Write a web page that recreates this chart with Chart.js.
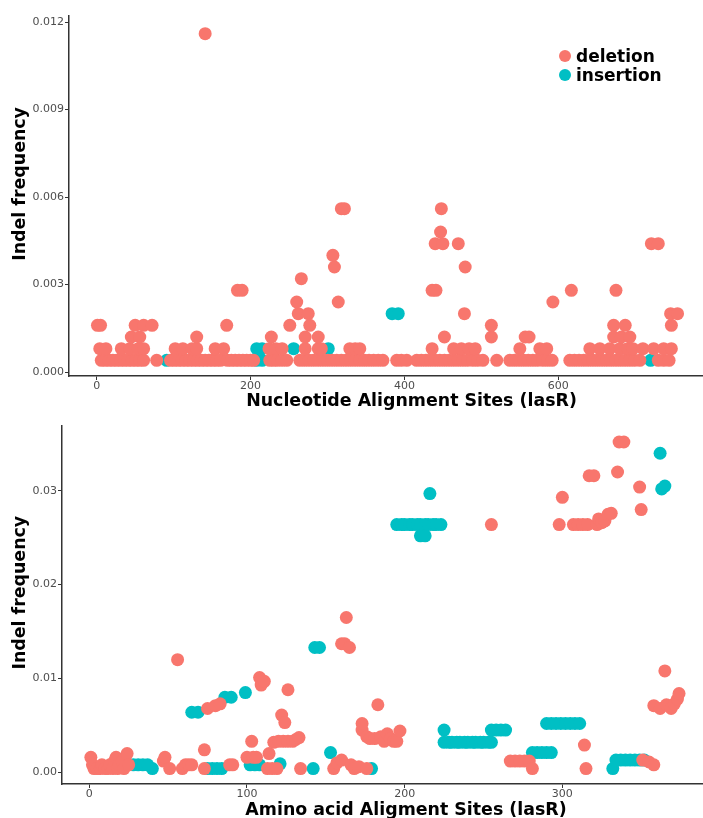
<!DOCTYPE html>
<html>
<head>
<meta charset="utf-8">
<script src="https://cdn.jsdelivr.net/npm/chart.js@4.4.1/dist/chart.umd.min.js"></script>
<style>
  html, body { margin: 0; padding: 0; background: #fff; width: 703px; height: 818px; overflow: hidden; position: relative; }
  #top { position: absolute; left: 0; top: 0; }
  #bottom { position: absolute; left: 0; top: 418px; }
  #legend { position: absolute; left: 559px; top: 46px; font: bold 17px 'DejaVu Sans', sans-serif; color: #000; }
  .item { display: flex; align-items: center; height: 19.5px; }
  .dot { width: 12px; height: 12px; border-radius: 50%; margin-right: 5px; }
</style>
</head>
<body>
<canvas id="top" width="755" height="418"></canvas>
<canvas id="bottom" width="751" height="412"></canvas>
<div id="legend">
  <div class="item"><span class="dot" style="background:#F8766D"></span>deletion</div>
  <div class="item"><span class="dot" style="background:#00BFC4"></span>insertion</div>
</div>
<script>
// nucleotide panel: [site, indel frequency]
const ntDeletion = [
  [6,0.0004],[11,0.0004],[16,0.0004],[21,0.0004],[26,0.0004],[31,0.0004],[36,0.0004],[41,0.0004],[46,0.0004],[51,0.0004],[56,0.0004],[61,0.0004],
  [78,0.0004],[96,0.0004],[101,0.0004],[106,0.0004],[111,0.0004],[116,0.0004],[121,0.0004],[126,0.0004],[131,0.0004],[136,0.0004],[141,0.0004],
  [146,0.0004],[151,0.0004],[156,0.0004],[161,0.0004],[170,0.0004],[175,0.0004],[180,0.0004],[185,0.0004],[190,0.0004],[195,0.0004],[200,0.0004],
  [204,0.0004],[225,0.0004],[230,0.0004],[235,0.0004],[241,0.0004],[247,0.0004],[264,0.0004],[270,0.0004],[276,0.0004],[282,0.0004],[288,0.0004],
  [294,0.0004],[300,0.0004],[306,0.0004],[312,0.0004],[318,0.0004],[324,0.0004],[330,0.0004],[336,0.0004],[342,0.0004],[348,0.0004],[354,0.0004],
  [360,0.0004],[366,0.0004],[372,0.0004],[390,0.0004],[396,0.0004],[403,0.0004],[416,0.0004],[422,0.0004],[428,0.0004],[434,0.0004],[440,0.0004],
  [446,0.0004],[452,0.0004],[458,0.0004],[464,0.0004],[470,0.0004],[476,0.0004],[482,0.0004],[489,0.0004],[495,0.0004],[502,0.0004],[520,0.0004],
  [537,0.0004],[543,0.0004],[549,0.0004],[555,0.0004],[561,0.0004],[567,0.0004],[573,0.0004],[580,0.0004],[586,0.0004],[592,0.0004],[615,0.0004],
  [621,0.0004],[627,0.0004],[633,0.0004],[639,0.0004],[645,0.0004],[651,0.0004],[657,0.0004],[663,0.0004],[669,0.0004],[675,0.0004],[681,0.0004],
  [687,0.0004],[693,0.0004],[699,0.0004],[706,0.0004],[730,0.0004],[737,0.0004],[744,0.0004],
  [4,0.0008],[12,0.0008],[32,0.0008],[43,0.0008],[54,0.0008],[61,0.0008],[102,0.0008],[112,0.0008],[124,0.0008],[130,0.0008],[154,0.0008],
  [165,0.0008],[224,0.0008],[233,0.0008],[241,0.0008],[271,0.0008],[288,0.0008],[292,0.0008],[329,0.0008],[336,0.0008],[342,0.0008],[436,0.0008],
  [464,0.0008],[474,0.0008],[484,0.0008],[492,0.0008],[550,0.0008],[576,0.0008],[585,0.0008],[641,0.0008],[654,0.0008],[667,0.0008],[680,0.0008],
  [690,0.0008],[697,0.0008],[710,0.0008],[724,0.0008],[737,0.0008],[747,0.0008],
  [45,0.0012],[56,0.0012],[130,0.0012],[227,0.0012],[271,0.0012],[288,0.0012],[452,0.0012],[513,0.0012],[557,0.0012],[562,0.0012],[672,0.0012],
  [682,0.0012],[693,0.0012],
  [1,0.0016],[5,0.0016],[50,0.0016],[61,0.0016],[72,0.0016],[169,0.0016],[251,0.0016],[277,0.0016],[513,0.0016],[672,0.0016],[687,0.0016],[747,0.0016],
  [262,0.0020],[275,0.0020],[478,0.0020],[746,0.0020],[755,0.0020],
  [260,0.0024],[314,0.0024],[593,0.0024],
  [183,0.0028],[189,0.0028],[436,0.0028],[441,0.0028],[617,0.0028],[675,0.0028],
  [266,0.0032],[309,0.0036],[479,0.0036],[307,0.0040],
  [440,0.0044],[450,0.0044],[470,0.0044],[721,0.0044],[730,0.0044],
  [447,0.0048],[318,0.0056],[322,0.0056],[448,0.0056],
  [141,0.0116]
];
const ntInsertion = [
  [91,0.0004],[208,0.0004],[215,0.0004],[720,0.0004],
  [208,0.0008],[215,0.0008],[256,0.0008],[301,0.0008],
  [384,0.0020],[392,0.0020]
];

// amino acid panel: [site, indel frequency]
const aaDeletion = [
  [1,0.0016],[2,0.0008],[3,0.0004],[5,0.0004],[7,0.0004],[8,0.0008],[10,0.0004],[12,0.0004],[13,0.0008],[15,0.0004],[16,0.0012],[17,0.0016],
  [18,0.0004],[19,0.0008],[21,0.0012],[22,0.0004],[24,0.0020],[25,0.0008],
  [47,0.0012],[48,0.0016],[51,0.0004],[56,0.0120],[59,0.0004],[61,0.0008],[63,0.0008],[65,0.0008],
  [73,0.0024],[73,0.0004],[75,0.0068],[80,0.0071],[83,0.0073],[89,0.0008],[91,0.0008],
  [100,0.0016],[103,0.0033],[104,0.0016],[106,0.0016],[108,0.0101],[109,0.0093],[111,0.0097],[113,0.0004],[114,0.0020],[116,0.0004],
  [117,0.0032],[119,0.0004],[120,0.0033],[122,0.0061],[123,0.0033],[124,0.0053],[126,0.0088],[126,0.0033],[129,0.0033],[131,0.0035],
  [133,0.0037],[134,0.0004],
  [155,0.0004],[157,0.0010],[160,0.0013],[160,0.0137],[162,0.0137],[163,0.0165],[165,0.0133],[166,0.0008],[168,0.0004],[171,0.0006],
  [173,0.0045],[173,0.0052],[176,0.0004],[176,0.0038],[178,0.0036],[181,0.0036],[183,0.0072],[185,0.0038],[187,0.0033],[189,0.0041],
  [191,0.0036],[193,0.0033],[195,0.0033],[197,0.0044],
  [255,0.0264],
  [267,0.0012],[270,0.0012],[273,0.0012],[276,0.0012],[279,0.0012],[281,0.0004],
  [298,0.0264],[300,0.0293],[307,0.0264],[310,0.0264],[313,0.0264],[314,0.0029],[315,0.0004],[316,0.0264],[317,0.0316],[320,0.0316],
  [322,0.0264],[323,0.0270],[325,0.0266],[327,0.0268],[329,0.0275],[331,0.0276],[335,0.0320],[336,0.0352],[339,0.0352],[349,0.0304],
  [350,0.0280],
  [351,0.0013],[355,0.0011],[358,0.0008],[358,0.0071],[362,0.0068],[365,0.0108],[366,0.0072],[369,0.0068],[371,0.0073],[373,0.0078],
  [374,0.0084]
];
const aaInsertion = [
  [28,0.0008],[31,0.0008],[34,0.0008],[37,0.0008],[40,0.0004],
  [65,0.0064],[69,0.0064],[75,0.0004],[78,0.0004],[81,0.0004],[84,0.0004],[86,0.0080],[90,0.0080],[99,0.0085],
  [102,0.0008],[105,0.0008],[108,0.0008],[121,0.0009],[142,0.0004],[143,0.0133],[146,0.0133],[153,0.0021],[179,0.0004],
  [195,0.0264],[198,0.0264],[200,0.0264],[203,0.0264],[205,0.0264],[208,0.0264],[210,0.0264],[213,0.0264],[215,0.0264],[218,0.0264],
  [220,0.0264],[223,0.0264],[210,0.0252],[213,0.0252],[216,0.0297],
  [225,0.0045],[225,0.0032],[228,0.0032],[230,0.0032],[233,0.0032],[235,0.0032],[238,0.0032],[240,0.0032],[243,0.0032],[245,0.0032],
  [248,0.0032],[250,0.0032],[253,0.0032],[255,0.0032],
  [255,0.0045],[258,0.0045],[261,0.0045],[264,0.0045],
  [281,0.0021],[284,0.0021],[287,0.0021],[290,0.0021],[293,0.0021],
  [290,0.0052],[293,0.0052],[296,0.0052],[299,0.0052],[302,0.0052],[305,0.0052],[308,0.0052],[311,0.0052],
  [332,0.0004],[334,0.0013],[337,0.0013],[340,0.0013],[343,0.0013],[346,0.0013],[349,0.0013],[352,0.0013],
  [362,0.0340],[363,0.0302],[365,0.0305]
];

const ntXTicks = [0, 200, 400, 600];
const ntYTicks = [0, 0.003, 0.006, 0.009, 0.012];
const aaXTicks = [0, 100, 200, 300];
const aaYTicks = [0, 0.01, 0.02, 0.03];

const yTitle = '    Indel frequency';
const delColor = '#F8766D';
const insColor = '#00BFC4';

function toPoints(pairs) {
  return pairs.map(p => ({ x: p[0], y: p[1] }));
}

function drawPanel(id, cfg) {
  const tickFont = { family: "'DejaVu Sans', sans-serif", size: 11 };
  const titleFont = { family: "'DejaVu Sans', sans-serif", size: 17.4, weight: 'bold' };
  const grid = { display: true, drawOnChartArea: false, drawTicks: true, tickLength: 4, color: '#333333', lineWidth: 1 };
  const border = { display: true, color: '#333333', width: 1.5 };
  return new Chart(document.getElementById(id), {
    type: 'scatter',
    data: {
      datasets: [
        { label: 'deletion', data: toPoints(cfg.deletion), backgroundColor: delColor, borderWidth: 0, pointRadius: 6.5, pointHoverRadius: 6.5 },
        { label: 'insertion', data: toPoints(cfg.insertion), backgroundColor: insColor, borderWidth: 0, pointRadius: 6.5, pointHoverRadius: 6.5 }
      ]
    },
    options: {
      responsive: false,
      animation: false,
      layout: { autoPadding: false, padding: cfg.padding },
      plugins: { legend: { display: false }, tooltip: { enabled: false } },
      scales: {
        x: {
          type: 'linear',
          min: cfg.xMin, max: cfg.xMax,
          afterFit: s => { s.height = cfg.xHeight; },
          afterBuildTicks: s => { s.ticks = cfg.xTicks.map(v => ({ value: v })); },
          ticks: { font: tickFont, color: '#4D4D4D', padding: 0, maxRotation: 0, callback: v => String(v) },
          grid: grid, border: border,
          title: { display: true, text: cfg.xTitle, font: titleFont, color: '#000', padding: { top: 0, bottom: cfg.xTitlePad } }
        },
        y: {
          type: 'linear',
          min: cfg.yMin, max: cfg.yMax,
          afterFit: s => { s.width = cfg.yWidth; },
          afterBuildTicks: s => { s.ticks = cfg.yTicks.map(v => ({ value: v })); },
          ticks: { font: tickFont, color: '#4D4D4D', padding: 1, callback: v => v.toFixed(cfg.yDigits) },
          grid: grid, border: border,
          title: { display: true, text: yTitle, font: titleFont, color: '#000', padding: { top: 10, bottom: 0 } }
        }
      }
    }
  });
}

drawPanel('top', {
  deletion: ntDeletion, insertion: ntInsertion,
  xTicks: ntXTicks, yTicks: ntYTicks, yDigits: 3,
  xMin: -36, xMax: 854.4, yMin: -0.000137, yMax: 0.012206,
  xHeight: 42, yWidth: 69, xTitlePad: 6,
  padding: { top: 16, right: 1, left: 0, bottom: 0 },
  xTitle: 'Nucleotide Alignment Sites (lasR)'
});

drawPanel('bottom', {
  deletion: aaDeletion, insertion: aaInsertion,
  xTicks: aaXTicks, yTicks: aaYTicks, yDigits: 2,
  xMin: -17.3, xMax: 419, yMin: -0.001245, yMax: 0.036947,
  xHeight: 46, yWidth: 62, xTitlePad: 9,
  padding: { top: 7, right: 1, left: 0, bottom: 0 },
  xTitle: 'Amino acid Aligment Sites (lasR)'
});
</script>
</body>
</html>
